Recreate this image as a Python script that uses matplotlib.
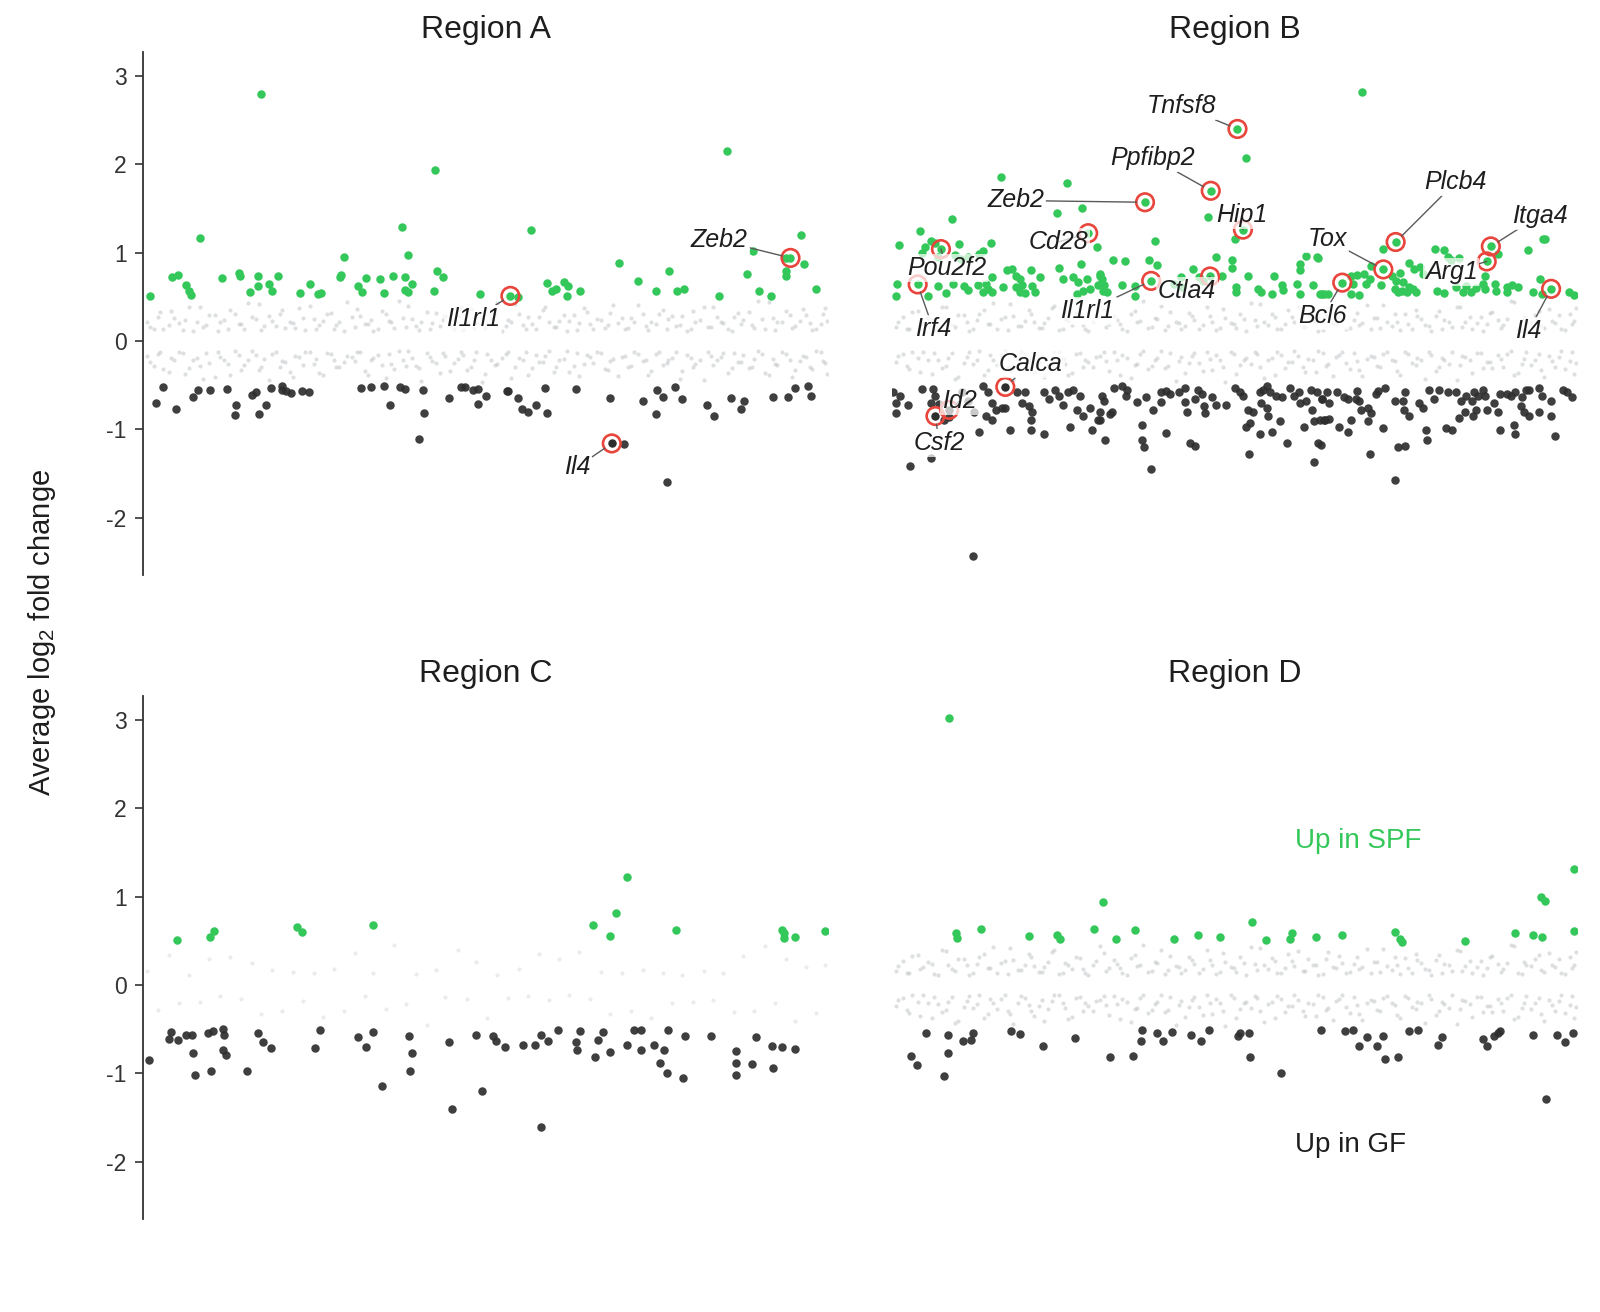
import matplotlib
matplotlib.use("Agg")
import matplotlib.pyplot as plt

plt.rcParams["font.family"] = ["Liberation Sans", "DejaVu Sans"]
plt.rcParams["mathtext.fontset"] = "custom"
plt.rcParams["mathtext.rm"] = "Liberation Sans"
plt.rcParams["mathtext.it"] = "Liberation Sans:italic"
plt.rcParams["axes.unicode_minus"] = False

GREEN = "#34c759"
DARK = "#2e2e2e"
GREY = "#bdc0c4"
RED = "#e8453c"

# ---------------- background (non-significant) genes ----------------
grey_x1 = [0.5, 1.6, 2.4, 3.7, 4.5, 5.8, 6.6, 7.9, 8.7, 9.6, 10.9, 11.8, 12.6, 13.9, 14.7, 15.8, 16.9, 17.6, 18.8, 19.9,
           20.7, 21.9, 22.8, 23.6, 24.9, 25.7, 26.8, 27.9, 28.6, 29.8, 30.9, 31.7, 32.8, 33.6, 34.9, 35.8, 36.6, 37.9, 38.7, 39.8,
           40.6, 41.9, 42.8, 43.7, 44.8, 45.9, 46.7, 47.8, 48.6, 49.9, 50.8, 51.6, 52.9, 53.7, 54.8, 55.9, 56.7, 57.8, 58.6, 59.9,
           60.7, 61.8, 62.9, 63.6, 64.8, 65.7, 66.9, 67.8, 68.6, 69.9, 70.8, 71.6, 72.9, 73.7, 74.8, 75.9, 76.6, 77.8, 78.7, 79.9,
           80.6, 81.8, 82.9, 83.7, 84.6, 85.9, 86.8, 87.6, 88.9, 89.7, 90.8, 91.9, 92.6, 93.8, 94.7, 95.9, 96.8, 97.6, 98.9, 99.6]
grey_x2 = [0.9, 2.1, 2.9, 4.0, 5.2, 6.1, 7.3, 8.2, 9.1, 10.4, 11.2, 12.3, 13.4, 14.2, 15.3, 16.4, 17.2, 18.3, 19.4, 20.3,
           21.4, 22.2, 23.3, 24.4, 25.2, 26.3, 27.4, 28.2, 29.3, 30.4, 31.2, 32.4, 33.2, 34.3, 35.4, 36.2, 37.3, 38.4, 39.2, 40.3,
           41.4, 42.2, 43.3, 44.1, 45.3, 46.4, 47.2, 48.3, 49.4, 50.2, 51.3, 52.4, 53.2, 54.3, 55.4, 56.2, 57.3, 58.4, 59.2, 60.3,
           61.4, 62.2, 63.3, 64.4, 65.2, 66.3, 67.4, 68.2, 69.3, 70.4, 71.2, 72.3, 73.4, 74.2, 75.3, 76.4, 77.2, 78.3, 79.4, 80.2,
           81.3, 82.4, 83.2, 84.3, 85.4, 86.2, 87.3, 88.4, 89.2, 90.3, 91.4, 92.2, 93.3, 94.4, 95.2, 96.3, 97.4, 98.2, 99.3, 99.8]
grey_up1 = [0.21, 0.14, 0.33, 0.18, 0.26, 0.12, 0.39, 0.22, 0.16, 0.29, 0.11, 0.24, 0.35, 0.19, 0.13, 0.27, 0.42, 0.17, 0.23, 0.31,
            0.15, 0.20, 0.37, 0.12, 0.25, 0.18, 0.30, 0.14, 0.22, 0.44, 0.16, 0.28, 0.19, 0.11, 0.34, 0.23, 0.15, 0.26, 0.40, 0.17,
            0.21, 0.13, 0.32, 0.24, 0.18, 0.28, 0.12, 0.36, 0.20, 0.15, 0.25, 0.43, 0.17, 0.22, 0.30, 0.13, 0.19, 0.27, 0.38, 0.16,
            0.23, 0.11, 0.29, 0.20, 0.33, 0.14, 0.24, 0.18, 0.41, 0.26, 0.15, 0.21, 0.31, 0.12, 0.19, 0.35, 0.25, 0.17, 0.28, 0.13,
            0.22, 0.39, 0.16, 0.27, 0.20, 0.11, 0.32, 0.24, 0.18, 0.45, 0.14, 0.26, 0.21, 0.34, 0.15, 0.23, 0.29, 0.12, 0.19, 0.37]
grey_up2 = [0.16, 0.27, 0.13, 0.34, 0.20, 0.24, 0.11, 0.38, 0.18, 0.29, 0.22, 0.14, 0.31, 0.19, 0.43, 0.25, 0.12, 0.28, 0.17, 0.35,
            0.21, 0.15, 0.26, 0.40, 0.13, 0.23, 0.32, 0.18, 0.11, 0.27, 0.36, 0.19, 0.24, 0.14, 0.30, 0.21, 0.45, 0.16, 0.25, 0.12,
            0.33, 0.20, 0.17, 0.28, 0.13, 0.39, 0.22, 0.15, 0.26, 0.19, 0.31, 0.11, 0.24, 0.42, 0.18, 0.27, 0.14, 0.35, 0.21, 0.16,
            0.29, 0.23, 0.12, 0.37, 0.19, 0.25, 0.15, 0.32, 0.20, 0.13, 0.26, 0.41, 0.17, 0.22, 0.30, 0.14, 0.28, 0.18, 0.11, 0.34,
            0.24, 0.16, 0.38, 0.21, 0.13, 0.27, 0.19, 0.33, 0.15, 0.25, 0.44, 0.12, 0.22, 0.29, 0.17, 0.36, 0.20, 0.14, 0.31, 0.23]
grey_lo1 = [-0.17, -0.28, -0.12, -0.35, -0.21, -0.14, -0.31, -0.19, -0.43, -0.25, -0.13, -0.22, -0.38, -0.16, -0.27, -0.11, -0.33, -0.20, -0.15, -0.29,
            -0.24, -0.41, -0.18, -0.12, -0.26, -0.36, -0.14, -0.21, -0.30, -0.17, -0.23, -0.13, -0.39, -0.19, -0.27, -0.15, -0.32, -0.22, -0.11, -0.28,
            -0.45, -0.18, -0.25, -0.14, -0.34, -0.20, -0.16, -0.29, -0.12, -0.37, -0.21, -0.26, -0.15, -0.42, -0.19, -0.13, -0.31, -0.24, -0.17, -0.35,
            -0.22, -0.11, -0.28, -0.40, -0.16, -0.25, -0.14, -0.33, -0.20, -0.18, -0.30, -0.13, -0.23, -0.38, -0.15, -0.27, -0.21, -0.12, -0.34, -0.19,
            -0.26, -0.44, -0.17, -0.22, -0.14, -0.31, -0.24, -0.16, -0.29, -0.11, -0.36, -0.20, -0.27, -0.15, -0.41, -0.23, -0.18, -0.32, -0.13, -0.25]
grey_lo2 = [-0.24, -0.15, -0.32, -0.19, -0.12, -0.37, -0.22, -0.28, -0.14, -0.41, -0.18, -0.26, -0.11, -0.33, -0.21, -0.16, -0.29, -0.44, -0.13, -0.23,
            -0.35, -0.17, -0.27, -0.12, -0.20, -0.39, -0.15, -0.30, -0.24, -0.18, -0.13, -0.34, -0.22, -0.16, -0.42, -0.26, -0.11, -0.28, -0.19, -0.31,
            -0.14, -0.23, -0.36, -0.17, -0.25, -0.12, -0.33, -0.21, -0.46, -0.15, -0.27, -0.19, -0.13, -0.30, -0.22, -0.38, -0.16, -0.24, -0.11, -0.29,
            -0.20, -0.35, -0.14, -0.26, -0.18, -0.12, -0.32, -0.23, -0.40, -0.17, -0.28, -0.15, -0.21, -0.34, -0.13, -0.25, -0.19, -0.43, -0.16, -0.30,
            -0.22, -0.12, -0.27, -0.18, -0.36, -0.14, -0.24, -0.31, -0.20, -0.15, -0.39, -0.26, -0.13, -0.21, -0.33, -0.17, -0.29, -0.11, -0.23, -0.37]

# ---------------- Region A ----------------
a_up_x = [1.0, 4.2, 5.0, 6.2, 6.7, 7.0, 8.3, 11.5, 14.0, 14.1, 15.6, 16.8, 16.8, 17.2, 18.3, 18.8, 19.7, 22.9, 24.4, 25.5,
          25.9, 28.7, 28.8, 29.3, 31.4, 31.9, 32.5, 34.5, 35.2, 36.4, 37.7, 38.2, 38.2, 38.6, 38.6, 39.2, 42.5, 42.6, 42.9, 43.8,
          49.1, 54.7, 56.6, 59.0, 59.7, 60.3, 61.4, 61.9, 62.0, 63.8, 69.4, 72.3, 74.8, 76.8, 77.9, 79.0, 84.1, 85.2, 88.2, 89.0,
          89.9, 91.6, 93.8, 93.8, 93.8, 96.0, 96.4, 98.2]
a_up_y = [0.51, 0.72, 0.75, 0.63, 0.56, 0.52, 1.16, 0.71, 0.77, 0.74, 0.55, 0.74, 0.62, 2.80, 0.64, 0.56, 0.74, 0.54, 0.65, 0.53,
          0.54, 0.72, 0.75, 0.95, 0.62, 0.55, 0.71, 0.70, 0.54, 0.74, 1.29, 0.72, 0.58, 0.55, 0.97, 0.64, 0.56, 1.93, 0.79, 0.72,
          0.53, 0.50, 1.26, 0.66, 0.56, 0.59, 0.67, 0.51, 0.62, 0.56, 0.88, 0.68, 0.56, 0.79, 0.56, 0.59, 0.51, 2.15, 0.76, 1.02,
          0.56, 0.51, 0.94, 0.79, 0.73, 1.20, 0.87, 0.59]
a_dn_x = [1.8, 2.8, 4.7, 7.2, 8.0, 9.8, 12.2, 13.4, 13.6, 15.8, 16.4, 16.9, 17.9, 18.7, 20.3, 20.3, 20.9, 21.6, 23.1, 24.2,
          31.8, 33.2, 35.1, 36.0, 37.5, 38.2, 40.3, 40.8, 41.0, 44.7, 46.4, 46.9, 48.1, 48.9, 48.9, 50.0, 53.1, 53.2, 54.7, 55.3,
          56.1, 57.4, 58.7, 59.0, 63.2, 68.1, 70.2, 72.9, 74.8, 75.0, 75.9, 76.4, 77.7, 78.6, 82.3, 83.4, 85.8, 87.3, 87.7, 92.0,
          94.1, 95.2, 97.1, 97.5]
a_dn_y = [-0.70, -0.52, -0.77, -0.63, -0.56, -0.55, -0.54, -0.84, -0.73, -0.61, -0.58, -0.83, -0.72, -0.53, -0.51, -0.55, -0.57, -0.59, -0.57, -0.58,
          -0.53, -0.52, -0.51, -0.72, -0.52, -0.54, -1.11, -0.56, -0.82, -0.65, -0.52, -0.52, -0.55, -0.54, -0.71, -0.62, -0.57, -0.57, -0.65, -0.77,
          -0.80, -0.72, -0.53, -0.81, -0.54, -0.65, -1.17, -0.68, -0.83, -0.56, -0.64, -1.60, -0.52, -0.66, -0.72, -0.85, -0.65, -0.77, -0.68, -0.64,
          -0.64, -0.53, -0.51, -0.62]
a_hl_genes = ["Zeb2", "Il1rl1", "Il4"]
a_hl_x = [94.5, 53.6, 68.4]
a_hl_y = [0.94, 0.51, -1.16]

# ---------------- Region B ----------------
b_up_x = [15.9, 25.5, 24.1, 27.7, 8.7, 4.1, 1.0, 5.6, 4.8, 4.3, 6.3, 9.8, 14.4, 13.3, 12.7, 11.0, 10.0, 9.2, 6.7, 29.9,
          24.4, 27.5, 0.7, 0.6, 5.2, 6.6, 7.9, 8.9, 10.5, 11.0, 12.5, 13.2, 14.0, 14.5, 14.5, 13.7, 16.1, 16.7, 17.5, 18.0,
          18.7, 19.0, 19.4, 20.2, 20.4, 20.9, 21.5, 24.9, 26.4, 27.1, 27.9, 28.4, 28.9, 30.4, 30.9, 31.3, 26.9, 18.7, 18.0,
          51.6, 46.1, 50.0, 38.4, 32.2, 34.0, 37.5, 38.6, 30.4, 30.6, 30.1, 33.5, 35.4, 35.5, 42.2, 43.9, 44.8, 45.3, 47.3, 48.2,
          49.6, 49.6, 50.2, 50.2, 52.0, 53.4, 53.9, 55.7, 55.4, 56.9, 57.1, 59.1, 59.5, 59.6, 59.5, 60.4, 62.1, 61.4, 62.8, 63.6,
          41.2, 42.3, 30.8, 68.6,
          71.7, 68.9, 69.9, 67.9, 67.0, 69.7, 69.2, 67.2, 67.0, 68.2, 71.4, 72.9, 73.6, 74.1, 74.6, 75.4, 75.1, 74.4, 73.4, 73.9,
          75.5, 76.2, 77.0, 77.5, 76.1, 76.4, 79.3, 80.6, 81.1, 81.6, 82.8, 79.6, 80.6, 82.3, 83.8, 84.5, 85.3, 83.3, 86.5, 86.3,
          86.5, 88.5, 88.0, 88.2, 89.8, 90.5, 91.3, 89.8, 92.8, 95.0, 95.3, 94.6, 93.6, 94.8, 62.5, 63.0, 62.0, 98.8, 99.5]
b_up_y = [1.86, 1.79, 1.45, 1.50, 1.38, 1.25, 1.09, 1.13, 1.06, 0.99, 1.11, 1.10, 1.11, 1.02, 0.98, 0.95, 0.93, 0.97, 0.95, 1.06,
          0.83, 0.87, 0.64, 0.51, 0.51, 0.62, 0.54, 0.65, 0.62, 0.58, 0.63, 0.55, 0.59, 0.55, 0.72, 0.64, 0.61, 0.80, 0.82, 0.74,
          0.70, 0.63, 0.54, 0.80, 0.62, 0.55, 0.72, 0.70, 0.72, 0.67, 0.57, 0.70, 0.59, 0.74, 0.63, 0.55, 0.53, 0.55, 0.61,
          2.07, 1.40, 1.15, 1.13, 0.92, 0.90, 0.92, 0.86, 0.76, 0.70, 0.63, 0.63, 0.62, 0.51, 0.72, 0.81, 0.72, 0.68, 0.95, 0.74,
          0.83, 0.92, 0.61, 0.55, 0.73, 0.59, 0.55, 0.74, 0.53, 0.63, 0.58, 0.65, 0.53, 0.87, 0.80, 0.96, 0.94, 0.63, 0.53, 0.53,
          0.65, 0.61, 0.57, 2.82,
          1.04, 0.76, 0.85, 0.75, 0.74, 0.70, 0.65, 0.65, 0.53, 0.52, 0.63, 0.74, 0.68, 0.77, 0.67, 0.61, 0.55, 0.57, 0.59, 0.55,
          0.88, 0.82, 0.84, 0.76, 0.59, 0.55, 1.04, 1.03, 0.95, 0.92, 0.94, 0.56, 0.54, 0.61, 0.62, 0.55, 0.60, 0.55, 0.74, 0.65,
          0.59, 0.98, 0.65, 0.57, 0.61, 0.63, 0.61, 0.55, 1.03, 1.15, 1.15, 0.70, 0.55, 0.53, 0.53, 0.53, 0.95, 0.55, 0.52]
b_dn_x = [0.1, 1.1, 0.6, 2.3, 0.5, 4.3, 6.0, 6.3, 5.6, 6.8, 8.3, 7.6, 10.2, 11.0, 12.0, 12.7, 13.7, 14.5, 13.2, 14.0,
          14.6, 15.2, 16.0, 16.5, 17.2, 18.2, 18.9, 19.4, 19.9, 20.2, 20.4, 20.2, 22.2, 22.2, 22.9, 23.7, 24.4, 24.9, 25.6, 26.4,
          26.9, 27.4, 25.9, 27.9, 28.9, 29.1, 30.4, 30.4, 30.9, 2.6, 5.6, 11.8,
          30.6, 30.1, 32.3, 33.6, 34.3, 34.1, 35.7, 37.1, 32.1, 31.8, 31.1, 36.4, 36.4, 36.8, 38.0, 39.3, 40.0, 40.5, 39.3, 41.8,
          42.8, 43.0, 42.8, 40.0, 43.5, 44.2, 44.7, 45.2, 44.2, 45.5, 45.7, 46.7, 47.2, 48.7, 50.0, 50.7, 51.2, 51.9, 52.7, 51.7,
          52.2, 53.7, 54.2, 54.7, 55.2, 53.9, 54.7, 54.9, 53.7, 55.4, 56.1, 56.9, 56.6, 57.6, 52.1, 37.8, 58.1, 58.6, 59.4, 59.6,
          60.1, 60.4, 61.1, 61.3, 61.6, 62.6, 61.6, 63.1, 63.8, 62.8, 63.8,
          62.0, 62.7, 63.5, 65.0, 62.5, 63.2, 62.2, 66.0, 66.5, 67.7, 67.9, 68.2, 68.5, 69.4, 69.9, 65.2, 66.5, 67.0, 69.4, 70.7,
          70.9, 71.9, 71.7, 69.7, 73.4, 73.9, 74.9, 73.4, 74.6, 74.9, 74.7, 75.4, 76.9, 77.5, 77.9, 78.1, 78.4, 79.1, 79.8, 81.1,
          82.3, 80.8, 81.8, 82.8, 83.1, 83.8, 84.6, 85.0, 85.5, 86.3, 86.6, 86.8, 83.6, 84.8, 85.3, 87.8, 88.5, 88.8, 89.8, 90.3,
          91.0, 92.0, 92.5, 93.0, 91.8, 92.2, 90.8, 91.0, 88.8, 93.0, 94.5, 94.8, 94.5, 96.2, 96.2, 96.7, 98.5, 99.3, 98.0]
b_dn_y = [-0.58, -0.62, -0.70, -0.72, -0.82, -0.54, -0.54, -0.62, -0.70, -0.71, -0.86, -0.90, -0.58, -0.68, -0.80, -1.03, -0.85, -0.89, -0.51, -0.58,
          -0.70, -0.78, -0.76, -0.76, -1.01, -0.58, -0.70, -0.58, -0.74, -0.89, -0.80, -1.01, -1.05, -0.58, -0.66, -0.55, -0.62, -0.72, -0.58, -0.55,
          -0.78, -0.62, -0.97, -0.85, -0.76, -1.01, -0.89, -0.80, -0.68, -1.41, -1.32, -2.43,
          -0.62, -0.89, -0.53, -0.51, -0.55, -0.62, -0.69, -0.64, -0.80, -0.83, -1.12, -0.95, -1.12, -1.20, -0.78, -0.58, -0.57, -0.60, -0.69, -0.58,
          -0.53, -0.80, -0.69, -1.04, -1.16, -1.19, -0.55, -0.60, -0.66, -0.74, -0.82, -0.64, -0.72, -0.72, -0.53, -0.58, -0.62, -0.78, -0.80, -0.97,
          -0.93, -0.58, -0.55, -0.51, -0.58, -0.70, -0.76, -0.85, -1.05, -1.03, -0.62, -0.64, -0.91, -1.16, -1.28, -1.45, -0.53, -0.62, -0.58, -0.70,
          -0.97, -0.68, -0.55, -0.78, -0.91, -1.18, -1.37, -0.89, -0.88, -0.66, -0.70,
          -0.58, -0.66, -0.58, -0.58, -0.89, -0.89, -1.16, -0.64, -0.66, -0.66, -0.57, -0.68, -0.78, -0.76, -0.82, -0.97, -1.03, -0.89, -0.91, -0.60,
          -0.57, -0.53, -0.99, -1.28, -1.57, -1.20, -1.19, -0.68, -0.68, -0.58, -0.78, -0.85, -0.70, -0.76, -1.01, -1.12, -0.55, -0.66, -0.55, -0.58,
          -0.58, -0.99, -1.01, -0.87, -0.68, -0.62, -0.68, -0.58, -0.62, -0.55, -0.62, -0.78, -0.80, -0.85, -0.78, -0.70, -0.80, -0.60, -0.60, -0.62,
          -0.58, -0.64, -0.55, -0.55, -0.74, -0.80, -0.95, -1.05, -1.01, -0.85, -0.53, -0.62, -0.80, -0.68, -0.85, -1.08, -0.58, -0.64, -0.55]
b_hl_genes = ["Tnfsf8", "Ppfibp2", "Zeb2", "Hip1", "Cd28", "Pou2f2", "Irf4", "Il1rl1", "Ctla4",
              "Tox", "Plcb4", "Itga4", "Arg1", "Bcl6", "Il4", "Calca", "Id2", "Csf2"]
b_hl_x = [50.4, 46.5, 36.9, 51.2, 28.6, 7.1, 3.7, 37.8, 46.4, 71.7, 73.5, 87.4, 86.8, 65.7, 96.2, 16.5, 8.3, 6.3]
b_hl_y = [2.40, 1.70, 1.57, 1.26, 1.22, 1.04, 0.64, 0.68, 0.73, 0.81, 1.12, 1.07, 0.90, 0.66, 0.59, -0.52, -0.78, -0.85]

# ---------------- Region C ----------------
c_up_x = [4.9, 9.7, 10.3, 22.4, 23.1, 33.6, 65.6, 68.2, 69.0, 70.6, 77.8, 93.3, 93.5, 93.6, 95.1, 99.5]
c_up_y = [0.51, 0.54, 0.61, 0.66, 0.60, 0.68, 0.68, 0.55, 0.81, 1.22, 0.62, 0.62, 0.53, 0.59, 0.54, 0.61]
c_dn_x = [0.8, 4.0, 3.8, 5.0, 6.2, 7.1, 7.2, 7.5, 9.4, 9.9, 10.1, 11.6, 11.8, 11.6, 12.0, 15.1, 16.7, 17.4, 18.6, 25.1,
          25.8, 31.4, 32.5, 33.6, 34.9, 38.8, 39.3, 39.0, 44.7, 45.1, 48.6, 49.4, 51.0, 51.5, 52.8, 55.5, 57.2, 58.1, 58.0, 59.1,
          60.5, 63.2, 63.3, 63.8, 66.0, 66.4, 67.1, 68.2, 70.6, 71.6, 72.6, 72.7, 74.6, 75.5, 76.1, 76.5, 76.6, 78.8, 79.1, 82.9,
          86.5, 86.6, 86.6, 88.9, 89.4, 91.8, 92.0, 93.3, 95.1]
c_dn_y = [-0.85, -0.53, -0.61, -0.62, -0.57, -0.57, -0.77, -1.02, -0.54, -0.98, -0.52, -0.50, -0.57, -0.74, -0.79, -0.97, -0.55, -0.65, -0.72, -0.72,
          -0.51, -0.59, -0.70, -0.53, -1.14, -0.58, -0.77, -0.97, -0.65, -1.40, -0.57, -1.20, -0.58, -0.63, -0.70, -0.68, -0.68, -1.61, -0.57, -0.64,
          -0.51, -0.65, -0.74, -0.52, -0.82, -0.62, -0.53, -0.76, -0.68, -0.51, -0.74, -0.51, -0.68, -0.88, -0.74, -1.00, -0.51, -1.05, -0.58, -0.58,
          -0.75, -0.88, -1.02, -0.90, -0.59, -0.69, -0.94, -0.70, -0.73]

# ---------------- Region D ----------------
d_up_x = [8.3, 9.3, 9.4, 12.9, 19.9, 24.0, 24.5, 29.5, 30.7, 32.6, 35.4, 41.2, 44.7, 47.9, 52.5, 54.5, 58.0, 58.4, 61.9, 65.7,
          73.4, 74.1, 74.5, 83.6, 90.9, 93.6, 94.7, 95.3, 94.9, 99.5, 99.5]
d_up_y = [3.02, 0.59, 0.53, 0.63, 0.55, 0.56, 0.52, 0.63, 0.94, 0.52, 0.62, 0.52, 0.56, 0.54, 0.71, 0.51, 0.52, 0.59, 0.54, 0.57,
          0.60, 0.52, 0.49, 0.50, 0.59, 0.57, 1.00, 0.95, 0.54, 1.31, 0.61]
d_dn_x = [2.7, 3.6, 4.9, 7.5, 8.1, 8.1, 10.3, 11.5, 11.8, 17.4, 18.7, 22.0, 26.7, 31.8, 35.1, 36.3, 36.4, 38.6, 39.5, 40.9,
          43.6, 45.1, 46.2, 50.5, 50.8, 52.1, 52.3, 56.7, 62.6, 66.1, 67.2, 68.2, 69.3, 70.8, 71.6, 71.9, 73.8, 75.4, 76.7, 79.7,
          80.2, 86.2, 86.8, 87.9, 88.4, 88.8, 93.6, 95.5, 97.1, 99.4, 98.3]
d_dn_y = [-0.80, -0.91, -0.55, -1.03, -0.57, -0.77, -0.63, -0.62, -0.55, -0.52, -0.56, -0.69, -0.60, -0.82, -0.80, -0.63, -0.51, -0.55, -0.63, -0.53,
          -0.57, -0.64, -0.51, -0.58, -0.54, -0.55, -0.82, -1.00, -0.51, -0.52, -0.51, -0.69, -0.59, -0.69, -0.58, -0.84, -0.82, -0.52, -0.51, -0.68,
          -0.59, -0.61, -0.69, -0.58, -0.55, -0.52, -0.57, -1.29, -0.57, -0.55, -0.65]

# label placement (layout only)
label_pos_a = {"Zeb2": (84.1, 1.14), "Il1rl1": (48.2, 0.25), "Il4": (63.3, -1.43)}
label_pos_b = {"Tnfsf8": (42.2, 2.66), "Ppfibp2": (38.0, 2.07), "Zeb2": (18.0, 1.59), "Hip1": (51.0, 1.43),
               "Cd28": (24.2, 1.12), "Pou2f2": (7.9, 0.83), "Irf4": (6.0, 0.13), "Il1rl1": (28.5, 0.34),
               "Ctla4": (43.0, 0.56), "Tox": (63.5, 1.15), "Plcb4": (82.3, 1.80), "Itga4": (94.5, 1.42),
               "Arg1": (81.6, 0.78), "Bcl6": (62.8, 0.28), "Il4": (92.9, 0.11), "Calca": (20.2, -0.26),
               "Id2": (9.8, -0.68), "Csf2": (6.8, -1.15)}


def draw_region(ax, title, grey_sets, grey_alpha, up_x, up_y, dn_x, dn_y,
                genes=(), hl_x=(), hl_y=(), label_pos=None):
    for xs, ys in grey_sets:
        ax.scatter(xs, ys, s=9, color=GREY, alpha=grey_alpha, linewidths=0, zorder=1)
    ax.scatter(up_x, up_y, s=37, color=GREEN, linewidths=0, zorder=2)
    ax.scatter(dn_x, dn_y, s=37, color=DARK, alpha=0.92, linewidths=0, zorder=2)
    for g, x, y in zip(genes, hl_x, hl_y):
        ax.scatter([x], [y], s=37, color=GREEN if y > 0 else DARK, linewidths=0, zorder=3)
        ax.scatter([x], [y], s=160, facecolors="none", edgecolors=RED, linewidths=1.9, zorder=3)
        tx, ty = label_pos[g]
        ax.annotate(g, xy=(x, y), xytext=(tx, ty), ha="center", va="center",
                    fontsize=18, fontstyle="italic", color="#1e1e1e", zorder=4,
                    bbox=dict(boxstyle="square,pad=0.08", fc="white", ec="none", alpha=0.72),
                    arrowprops=dict(arrowstyle="-", color="#5a5a5a", lw=1.0, shrinkA=0, shrinkB=6))
    ax.set_title(title, fontsize=23, pad=10, color="#1e1e1e")
    ax.set_xlim(0, 100)
    ax.set_ylim(-2.65, 3.27)
    ax.set_xticks([])
    for s in ["top", "right", "bottom"]:
        ax.spines[s].set_visible(False)


fig = plt.figure(figsize=(16, 13.12), dpi=100)
ax_a = fig.add_axes([0.0896, 0.5617, 0.428, 0.3986])
ax_b = fig.add_axes([0.5577, 0.5617, 0.428, 0.3986])
ax_c = fig.add_axes([0.0896, 0.0709, 0.428, 0.3986])
ax_d = fig.add_axes([0.5577, 0.0709, 0.428, 0.3986])

draw_region(ax_a, "Region A",
            [(grey_x1, grey_up1), (grey_x2, grey_up2), (grey_x1, grey_lo1), (grey_x2, grey_lo2)], 0.5,
            a_up_x, a_up_y, a_dn_x, a_dn_y, a_hl_genes, a_hl_x, a_hl_y, label_pos_a)
draw_region(ax_b, "Region B",
            [(grey_x1, grey_up2), (grey_x2, grey_up1), (grey_x1, grey_lo2), (grey_x2, grey_lo1)], 0.5,
            b_up_x, b_up_y, b_dn_x, b_dn_y, b_hl_genes, b_hl_x, b_hl_y, label_pos_b)
draw_region(ax_c, "Region C",
            [(grey_x1[::3], grey_up2[::3]), (grey_x2[1::3], grey_lo1[1::3])], 0.3,
            c_up_x, c_up_y, c_dn_x, c_dn_y)
draw_region(ax_d, "Region D",
            [(grey_x2, grey_up1), (grey_x1, grey_up2), (grey_x2, grey_lo1), (grey_x1, grey_lo2)], 0.5,
            d_up_x, d_up_y, d_dn_x, d_dn_y)

for ax in (ax_a, ax_c):
    ax.spines["left"].set_color("#333333")
    ax.spines["left"].set_linewidth(1.3)
    ax.set_yticks([-2, -1, 0, 1, 2, 3])
    ax.tick_params(axis="y", length=6, width=1.2, color="#333333", labelsize=16.5, labelcolor="#333333", pad=6)
for ax in (ax_b, ax_d):
    ax.spines["left"].set_visible(False)
    ax.set_yticks([])

ax_d.text(58.8, 1.63, "Up in SPF", color=GREEN, fontsize=20, ha="left", va="center")
ax_d.text(58.8, -1.81, "Up in GF", color="#1e1e1e", fontsize=20, ha="left", va="center")

fig.text(0.026, 0.518, "Average log$_2$ fold change", rotation=90, ha="center", va="center",
         fontsize=21, color="#1e1e1e")

fig.savefig("out.png", dpi=100)
